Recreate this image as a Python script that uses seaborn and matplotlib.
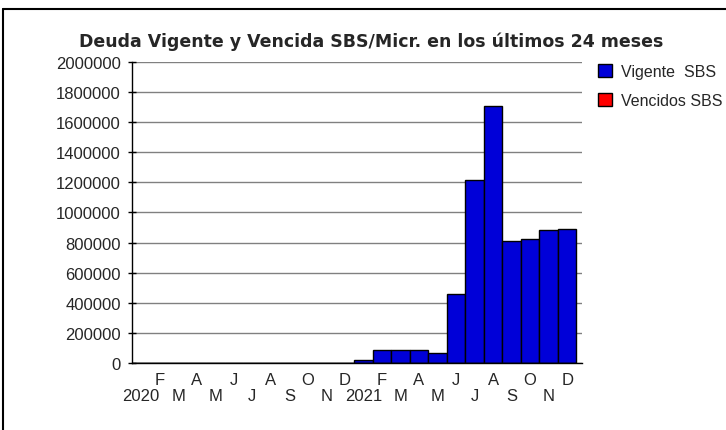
import numpy as np
import pandas as pd
import matplotlib
matplotlib.use('Agg')
import matplotlib.pyplot as plt
import seaborn as sns
from matplotlib.lines import Line2D

# Datos: ultimos 24 meses (ene 2020 - dic 2021)
meses = [f'{a}-{m:02d}' for a in (2020, 2021) for m in range(1, 13)]
etiquetas = ['2020', 'F', 'M', 'A', 'M', 'J', 'J', 'A', 'S', 'O', 'N', 'D',
             '2021', 'F', 'M', 'A', 'M', 'J', 'J', 'A', 'S', 'O', 'N', 'D']
vigente = [0, 0, 0, 0, 0, 0, 0, 0, 0, 0, 0, 0,
           20000, 88000, 88000, 88000, 66000, 458000,
           1215000, 1705000, 812000, 826000, 884000, 892000]
vencidos = [0] * 24
series = ['Vigente  SBS', 'Vencidos SBS']
colores = {'Vigente  SBS': '#0000D8', 'Vencidos SBS': '#FF0000'}

df = pd.DataFrame({
    'mes': meses * 2,
    'monto': vigente + vencidos,
    'serie': [series[0]] * 24 + [series[1]] * 24,
})

sns.set_style('white')
plt.rcParams['font.family'] = ['Liberation Sans', 'DejaVu Sans']

fig = plt.figure(figsize=(7.26, 4.31), dpi=100)
ax = fig.add_axes([0.1818, 0.1555, 0.6198, 0.6983])

sns.barplot(data=df, x='mes', y='monto', hue='serie', order=meses,
            hue_order=series, palette=colores, dodge=False, width=1,
            saturation=1, edgecolor='black', linewidth=1, errorbar=None, ax=ax)

# Ejes
ax.set_xlim(-0.5, 23.8)
ax.set_ylim(0, 2000000)
yt = np.arange(0, 2000001, 200000)
ax.set_yticks(yt)
ax.set_yticklabels([str(v) for v in yt], fontsize=12)
ax.yaxis.grid(True, color='#808080', linewidth=1)
ax.set_axisbelow(True)
ax.set_xlabel('')
ax.set_ylabel('')
for s in ['top', 'right']:
    ax.spines[s].set_visible(False)
for s in ['left', 'bottom']:
    ax.spines[s].set_color('black')
    ax.spines[s].set_linewidth(1)

# marcas entre meses; etiquetas en dos filas
ax.set_xticks(np.arange(0.5, 24, 1))
ax.set_xticklabels([])
ax.set_xticks(np.arange(1, 24, 2), minor=True)
ax.set_xticklabels(etiquetas[1::2], minor=True, fontsize=12)
ax.tick_params(axis='x', which='major', direction='inout', length=6, width=1, color='black')
ax.tick_params(axis='x', which='minor', length=0, pad=6.5)
ax.tick_params(axis='y', direction='inout', length=6, width=1, color='black', pad=5, left=True)

fila2 = ax.secondary_xaxis('bottom')
fila2.set_xticks(np.arange(0, 24, 2))
fila2.set_xticklabels(etiquetas[0::2], fontsize=12)
fila2.tick_params(length=0, pad=18)
fila2.spines['bottom'].set_visible(False)

# Leyenda
h, l = ax.get_legend_handles_labels()
ax.legend(h, l, loc='upper left', bbox_to_anchor=(598 / 726, 1 - 65 / 431),
          bbox_transform=fig.transFigure, frameon=False, fontsize=11.5,
          handlelength=0.85, handleheight=0.85, handletextpad=0.6,
          labelspacing=0.9, borderpad=0, borderaxespad=0)

fig.text(371 / 726, 1 - 47 / 431, 'Deuda Vigente y Vencida SBS/Micr. en los últimos 24 meses',
         ha='center', va='baseline', fontsize=12.5, fontweight='bold',
         family=['DejaVu Sans'])

# marco
fig.add_artist(Line2D([3 / 726, 3 / 726], [0, 1 - 10 / 431], color='black', linewidth=1.5))
fig.add_artist(Line2D([3 / 726, 1], [1 - 10 / 431, 1 - 10 / 431], color='black', linewidth=1.5))

fig.savefig('out.png', dpi=100, facecolor='white')
